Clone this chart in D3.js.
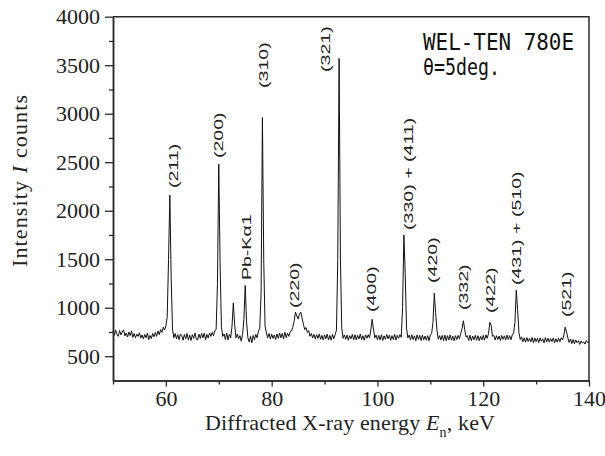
<!DOCTYPE html>
<html>
<head>
<meta charset="utf-8">
<script src="https://cdn.jsdelivr.net/npm/d3@7"></script>
<style>
  body { margin: 0; background: #fff; }
  svg { display: block; }
</style>
</head>
<body>
<svg id="chart" width="605" height="456"></svg>
<script>
// Energy-dispersive diffraction spectrum, one count per channel
const energyStart = 50;   // keV, first channel
const energyStep = 0.25;  // keV per channel
const counts = [
  /* 50 */ 760, 715, 770, 725,
  /* 51 */ 705, 765, 720, 750,
  /* 52 */ 772, 710, 740, 698,
  /* 53 */ 748, 712, 760, 695,
  /* 54 */ 735, 690, 728, 705,
  /* 55 */ 742, 686, 720, 678,
  /* 56 */ 725, 690, 738, 672,
  /* 57 */ 715, 682, 735, 700,
  /* 58 */ 745, 705, 760, 722,
  /* 59 */ 775, 745, 800, 770,
  /* 60 */ 815, 900, 1500, 2160,
  /* 61 */ 1300, 780, 690, 735,
  /* 62 */ 680, 722, 670, 730,
  /* 63 */ 712, 665, 725, 680,
  /* 64 */ 735, 670, 718, 662,
  /* 65 */ 722, 685, 740, 676,
  /* 66 */ 668, 728, 684, 735,
  /* 67 */ 690, 738, 670, 725,
  /* 68 */ 688, 740, 705, 745,
  /* 69 */ 710, 765, 775, 1250,
  /* 70 */ 2480, 1450, 800, 705,
  /* 71 */ 730, 672, 740, 668,
  /* 72 */ 725, 690, 810, 1050,
  /* 73 */ 830, 690, 728, 680,
  /* 74 */ 712, 655, 725, 880,
  /* 75 */ 1230, 860, 690, 648,
  /* 76 */ 705, 640, 715, 672,
  /* 77 */ 725, 690, 760, 790,
  /* 78 */ 1150, 2960, 1500, 810,
  /* 79 */ 740, 690, 735, 678,
  /* 80 */ 728, 684, 720, 672,
  /* 81 */ 730, 685, 740, 690,
  /* 82 */ 735, 680, 748, 692,
  /* 83 */ 738, 705, 752, 760,
  /* 84 */ 800, 860, 955, 915,
  /* 85 */ 885, 935, 955, 895,
  /* 86 */ 830, 775, 795, 745,
  /* 87 */ 765, 705, 735, 690,
  /* 88 */ 725, 678, 722, 684,
  /* 89 */ 730, 675, 715, 668,
  /* 90 */ 720, 680, 728, 670,
  /* 91 */ 715, 665, 725, 680,
  /* 92 */ 722, 770, 1500, 3570,
  /* 93 */ 1500, 790, 685, 720,
  /* 94 */ 675, 718, 665, 712,
  /* 95 */ 680, 725, 670, 722,
  /* 96 */ 668, 715, 678, 728,
  /* 97 */ 672, 712, 665, 720,
  /* 98 */ 685, 722, 690, 770,
  /* 99 */ 880, 780, 690, 718,
  /* 100 */ 670, 715, 668, 722,
  /* 101 */ 662, 710, 675, 725,
  /* 102 */ 680, 718, 665, 712,
  /* 103 */ 672, 726, 668, 715,
  /* 104 */ 685, 722, 695, 1000,
  /* 105 */ 1750, 1350, 790, 690,
  /* 106 */ 718, 668, 722, 672,
  /* 107 */ 710, 660, 720, 675,
  /* 108 */ 715, 662, 718, 670,
  /* 109 */ 708, 665, 712, 660,
  /* 110 */ 718, 735, 850, 1150,
  /* 111 */ 950, 770, 675, 712,
  /* 112 */ 668, 715, 662, 718,
  /* 113 */ 660, 712, 668, 720,
  /* 114 */ 665, 708, 660, 712,
  /* 115 */ 672, 715, 680, 735,
  /* 116 */ 785, 866, 775, 700,
  /* 117 */ 712, 662, 718, 660,
  /* 118 */ 708, 670, 715, 665,
  /* 119 */ 712, 660, 705, 668,
  /* 120 */ 715, 665, 720, 685,
  /* 121 */ 735, 850, 820, 705,
  /* 122 */ 715, 668, 712, 672,
  /* 123 */ 708, 662, 715, 675,
  /* 124 */ 710, 668, 718, 672,
  /* 125 */ 712, 670, 722, 740,
  /* 126 */ 850, 1180, 980, 745,
  /* 127 */ 672, 700, 650, 690,
  /* 128 */ 645, 692, 652, 685,
  /* 129 */ 648, 695, 640, 688,
  /* 130 */ 650, 684, 642, 690,
  /* 131 */ 655, 680, 638, 692,
  /* 132 */ 648, 686, 645, 682,
  /* 133 */ 652, 688, 640, 680,
  /* 134 */ 645, 685, 650, 690,
  /* 135 */ 668, 720, 800, 750,
  /* 136 */ 690, 642, 678, 630,
  /* 137 */ 672, 628, 668, 640,
  /* 138 */ 660, 622, 658, 635,
  /* 139 */ 648, 625, 662, 640,
  /* 140 */ 655
];

// Reflection labels: text, energy of the label, count at the label's lower end
const peakLabels = ["(211)", "(200)", "Pb-K\u03b11", "(310)", "(220)", "(321)", "(400)",
                    "(330) + (411)", "(420)", "(332)", "(422)", "(431) + (510)", "(521)"];
const labelEnergy = [61.4, 69.9, 75.2, 78.4, 84.4, 90.1, 98.9, 105.8, 110.5, 116.2, 121.4, 126.4, 135.8];
const labelCount = [2234, 2543, 1285, 3265, 997, 3430, 956, 1802, 1255, 976, 945, 1234, 904];

// Axis ticks
const xMajorTicks = [60, 80, 100, 120, 140];
const xMinorTicks = [50, 70, 90, 110, 130];
const yMajorTicks = [500, 1000, 1500, 2000, 2500, 3000, 3500, 4000];
const yMinorTicks = [750, 1250, 1750, 2250, 2750, 3250, 3750];

// Sample annotation
const sampleName = "WEL-TEN 780E";
const sampleAngle = "\u03b8=5deg.";

const svg = d3.select("#chart");
const plotLeft = 113, plotRight = 589, plotTop = 16.7, plotBottom = 380.5;

const x = d3.scaleLinear().domain([50, 140]).range([plotLeft, plotRight]);
const y = d3.scaleLinear().domain([250, 4000]).range([plotBottom, plotTop]);

const axisColor = "#2a2a2a";
const serif = "'Liberation Serif', 'Times New Roman', serif";

// Spectrum trace
const line = d3.line()
  .x((d, i) => x(energyStart + i * energyStep))
  .y(d => y(d));

svg.append("path")
  .datum(counts)
  .attr("d", line)
  .attr("fill", "none")
  .attr("stroke", "#111")
  .attr("stroke-width", 1)
  .attr("stroke-linejoin", "round");

// Frame: top and right edges
svg.append("path")
  .attr("d", `M${plotLeft},${plotTop}H${plotRight}V${plotBottom}`)
  .attr("fill", "none")
  .attr("stroke", axisColor)
  .attr("stroke-width", 1.5);

function styleAxis(g) {
  g.selectAll("path.domain").attr("stroke", axisColor).attr("stroke-width", 1.5);
  g.selectAll(".tick line").attr("stroke", axisColor).attr("stroke-width", 1.3);
  g.selectAll(".tick text")
    .attr("fill", "#222")
    .style("font-family", serif)
    .style("font-size", "22px");
}

// Y axis
svg.append("g")
  .attr("transform", `translate(${plotLeft},0)`)
  .call(d3.axisLeft(y).tickValues(yMinorTicks).tickSize(4).tickSizeOuter(0).tickFormat(""))
  .call(styleAxis);
svg.append("g")
  .attr("transform", `translate(${plotLeft},0)`)
  .call(d3.axisLeft(y).tickValues(yMajorTicks).tickSize(8).tickPadding(5).tickSizeOuter(0).tickFormat(d3.format("d")))
  .call(styleAxis);

// X axis
svg.append("g")
  .attr("transform", `translate(0,${plotBottom})`)
  .call(d3.axisBottom(x).tickValues(xMinorTicks).tickSize(4).tickSizeOuter(0).tickFormat(""))
  .call(styleAxis);
svg.append("g")
  .attr("transform", `translate(0,${plotBottom})`)
  .call(d3.axisBottom(x).tickValues(xMajorTicks).tickSize(6).tickPadding(4).tickSizeOuter(0).tickFormat(d3.format("d")))
  .call(styleAxis);

// Axis titles
const xTitle = svg.append("text")
  .attr("x", 350).attr("y", 430)
  .attr("text-anchor", "middle")
  .attr("textLength", 290).attr("lengthAdjust", "spacing")
  .attr("fill", "#222")
  .style("font-family", serif)
  .style("font-size", "22px");
xTitle.append("tspan").text("Diffracted X-ray energy ");
xTitle.append("tspan").style("font-style", "italic").text("E");
xTitle.append("tspan").attr("dy", 7).style("font-size", "14px").text("n");
xTitle.append("tspan").attr("dy", -7).text(", keV");

const yTitle = svg.append("text")
  .attr("transform", "translate(27,181) rotate(-90)")
  .attr("text-anchor", "middle")
  .attr("textLength", 172).attr("lengthAdjust", "spacing")
  .attr("fill", "#222")
  .style("font-family", serif)
  .style("font-size", "22px");
yTitle.append("tspan").text("Intensity ");
yTitle.append("tspan").style("font-style", "italic").text("I");
yTitle.append("tspan").text(" counts");

// Peak labels, rotated and widened along the text direction
const labelGroup = svg.append("g");
peakLabels.forEach((t, i) => {
  labelGroup.append("text")
    .attr("transform", `translate(${x(labelEnergy[i])},${y(labelCount[i])}) rotate(-90) scale(1.45,1)`)
    .attr("dominant-baseline", "central")
    .attr("text-anchor", "start")
    .attr("fill", "#222")
    .style("font-family", "'Liberation Sans', Arial, sans-serif")
    .style("font-size", "13.5px")
    .text(t);
});

// Sample annotation, top right
const mono = "'DejaVu Sans Mono', monospace";
svg.append("text")
  .attr("x", 423).attr("y", 50)
  .attr("textLength", 151).attr("lengthAdjust", "spacingAndGlyphs")
  .attr("fill", "#111")
  .style("font-family", mono)
  .style("font-size", "23px")
  .text(sampleName);
svg.append("text")
  .attr("x", 423).attr("y", 75)
  .attr("textLength", 77).attr("lengthAdjust", "spacingAndGlyphs")
  .attr("fill", "#111")
  .style("font-family", mono)
  .style("font-size", "23px")
  .text(sampleAngle);
</script>
</body>
</html>
